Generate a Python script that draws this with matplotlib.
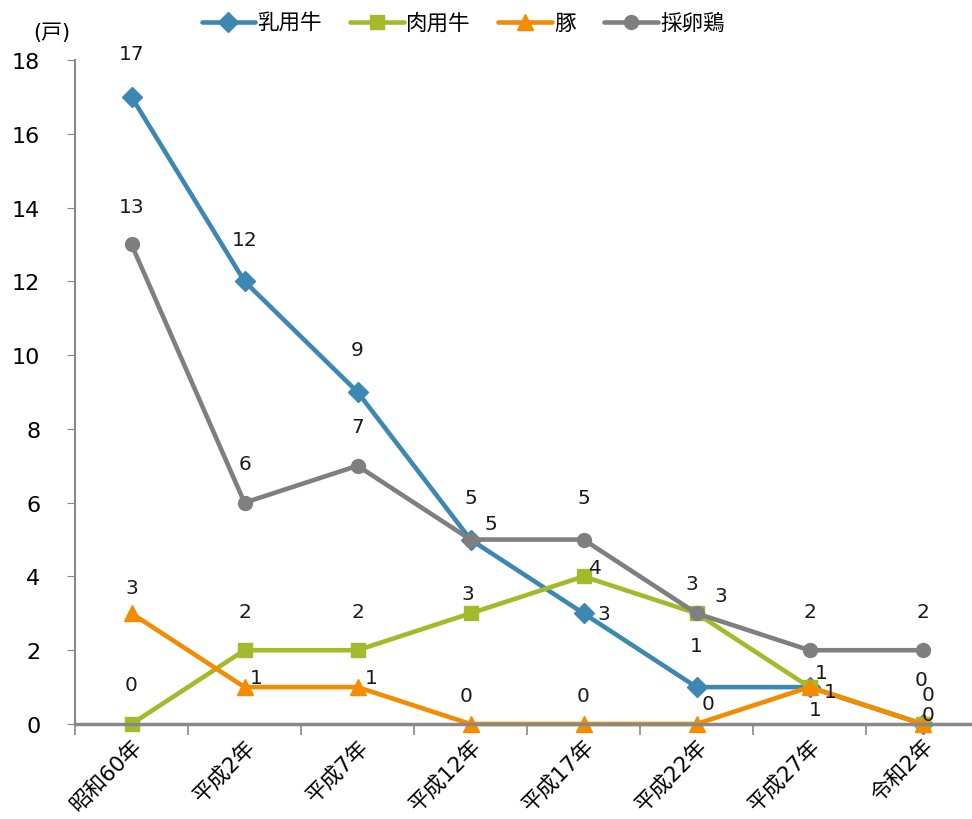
import matplotlib
matplotlib.use("Agg")
import matplotlib.pyplot as plt
from matplotlib.ticker import FixedLocator, NullFormatter

plt.rcParams['font.family'] = ['DejaVu Sans', 'Noto Sans CJK JP']

years = ['昭和60年', '平成2年', '平成7年', '平成12年', '平成17年', '平成22年', '平成27年', '令和2年']
dairy = [17, 12, 9, 5, 3, 1, 1, 0]
beef = [0, 2, 2, 3, 4, 3, 1, 0]
pig = [3, 1, 1, 0, 0, 0, 1, 0]
layer = [13, 6, 7, 5, 5, 3, 2, 2]

series = [
    ('乳用牛', dairy, '#3d87b3', 'D', 10.5),
    ('肉用牛', beef, '#a4ba2a', 's', 10),
    ('豚', pig, '#f58b00', '^', 11),
    ('採卵鶏', layer, '#7f7f7f', 'o', 10),
]

# label offsets in pixels (dx, dy), one per point
offsets = [
    [(0, 43), (0, 42), (0, 43), (0, 42), (20, 0), (0, 42), (21, -4), (6, 9)],
    [(0, 39), (0, 39), (0, 39), (-3, 20), (12, 9), (-5, 30), (12, 15), (6, 29)],
    [(0, 26), (12, 10), (14, 10), (-4, 28), (0, 28), (12, 20), (6, -22), (-1, 44)],
    [(0, 38), (0, 39), (0, 39), (20, 16), (0, 42), (24, 18), (0, 39), (0, 39)],
]

fig = plt.figure(figsize=(9.72, 8.2), dpi=100)
ax = fig.add_axes([75 / 972, 1 - 725 / 820, 904 / 972, 664 / 820])

x = list(range(len(years)))
for (name, vals, color, mk, ms), offs in zip(series, offsets):
    ax.plot(x, vals, color=color, lw=3.3, marker=mk, ms=ms, label=name,
            solid_capstyle='round', clip_on=False)
    for xi, v, (dx, dy) in zip(x, vals, offs):
        ax.annotate(str(v), (xi, v), xytext=(dx, dy), textcoords='offset pixels',
                    ha='center', va='center', fontsize=14.5, color='#1a1a1a',
                    annotation_clip=False)

ax.set_xlim(-0.5, 7.5)
ax.set_ylim(0, 18)
ax.set_yticks(range(0, 19, 2))
ax.tick_params(axis='y', length=6, color='#888888', labelsize=16, pad=19)

ax.xaxis.set_major_locator(FixedLocator([i - 0.5 for i in range(9)]))
ax.xaxis.set_major_formatter(NullFormatter())
ax.xaxis.set_minor_locator(FixedLocator(x))
ax.set_xticklabels(years, minor=True, rotation=45, ha='right',
                   rotation_mode='anchor', fontsize=15.5)
ax.tick_params(axis='x', which='major', length=8, color='#888888', width=1.2)
ax.tick_params(axis='x', which='minor', length=0, pad=8)

for s in ['top', 'right']:
    ax.spines[s].set_visible(False)
ax.spines['left'].set_color('#888888')
ax.spines['left'].set_linewidth(1.5)
ax.spines['bottom'].set_color('#888888')
ax.spines['bottom'].set_linewidth(2.5)

fig.text(52 / 972, 1 - 33 / 820, '(戸)', ha='center', va='center', fontsize=15)

fig.legend(loc='center', bbox_to_anchor=(463 / 972, 1 - 24 / 820), ncol=4,
           frameon=False, fontsize=15.5, handlelength=2.5, handletextpad=0.1,
           columnspacing=1.3)

fig.savefig('out.png', dpi=100)
